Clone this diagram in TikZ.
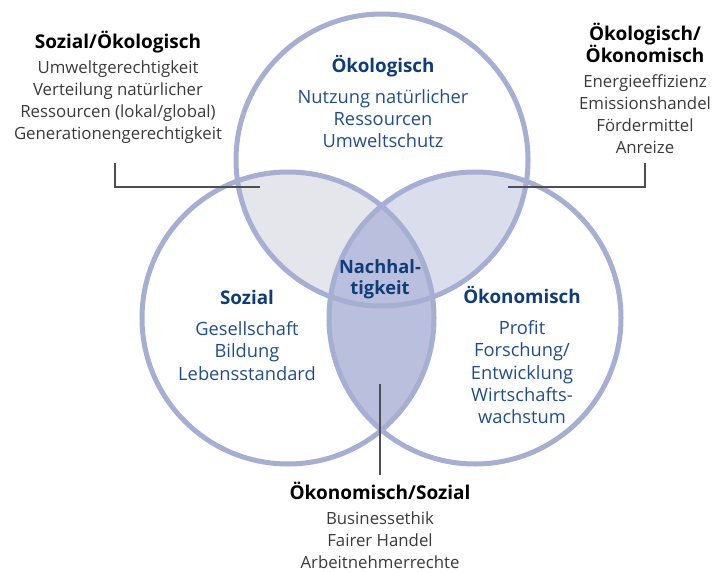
\documentclass[tikz,border=0pt]{standalone}
\usepackage{fontspec}
\setmainfont{Open Sans}
\usetikzlibrary{positioning}

\definecolor{ringblue}{HTML}{A5AED3}
\definecolor{lensgrey}{HTML}{E5E6EB}
\definecolor{lenslight}{HTML}{DADEEC}
\definecolor{lensdark}{HTML}{B9BFDC}
\definecolor{textblue}{HTML}{1F4E8C}
\definecolor{titleblue}{HTML}{0E3D79}
\definecolor{textgrey}{HTML}{3A3A3A}

\tikzset{
  ring/.style={draw=ringblue, line width=5pt},
  inlabel/.style={align=center, text=textblue, font=\fontsize{18.3}{22.3}\selectfont, inner sep=0pt},
  outlabel/.style={align=center, text=textgrey, font=\fontsize{16.8}{22}\selectfont, inner sep=0pt},
  leader/.style={draw=textgrey!90, line width=1.5pt}
}

\begin{document}
\begin{tikzpicture}[x=1pt, y=-1pt]
    \useasboundingbox (0,0) rectangle (725,572);

    % Kreismittelpunkte
    \coordinate (oek) at (382,160);
    \coordinate (soz) at (288,318);
    \coordinate (okn) at (475,318);

    % Schnittflaechen
    \begin{scope}
        \clip (oek) circle[radius=146pt];
        \fill[lensgrey] (soz) circle[radius=146pt];
        \fill[lenslight] (okn) circle[radius=146pt];
    \end{scope}
    \begin{scope}
        \clip (soz) circle[radius=146pt];
        \fill[lensdark] (okn) circle[radius=146pt];
    \end{scope}

    % Kreise
    \draw[ring] (oek) circle[radius=146pt];
    \draw[ring] (soz) circle[radius=146pt];
    \draw[ring] (okn) circle[radius=146pt];

    % Texte in den Kreisen
    \node[inlabel] (toek) at (383,101.5) {{\bfseries\fontsize{18.8}{22.3}\selectfont\color{titleblue} Ökologisch}\\[9pt]
        Nutzung natürlicher\\ Ressourcen\\ Umweltschutz};
    \node[inlabel] (tsoz) at (247,335) {{\bfseries\fontsize{18.8}{22.3}\selectfont\color{titleblue} Sozial}\\[9pt]
        Gesellschaft\\ Bildung\\ Lebensstandard};
    \node[inlabel] (tokn) at (522,355) {{\bfseries\fontsize{18.8}{22.3}\selectfont\color{titleblue} Ökonomisch}\\[9pt]
        Profit\\ Forschung/\\ Entwicklung\\ Wirtschafts-\\ wachstum};
    \node[inlabel, font=\bfseries\fontsize{18.3}{21}\selectfont, text=titleblue] (mitte) at (380,279.5) {Nachhal-\\ tigkeit};

    % Texte aussen
    \node[outlabel] (sok) at (118,87) {{\bfseries\fontsize{19}{22}\selectfont\color{black} Sozial/Ökologisch}\\[3pt]
        Umweltgerechtigkeit\\ Verteilung natürlicher\\ Ressourcen (lokal/global)\\ Generationengerechtigkeit};
    \node[outlabel] (oko) at (645,88.5) {{\bfseries\fontsize{19}{22}\selectfont\color{black} Ökologisch/}\\
        {\bfseries\fontsize{19}{22}\selectfont\color{black} Ökonomisch}\\[3pt]
        Energieeffizienz\\ Emissionshandel\\ Fördermittel\\ Anreize};
    \node[outlabel] (oso) at (380,525.5) {{\bfseries\fontsize{19}{22}\selectfont\color{black} Ökonomisch/Sozial}\\[3pt]
        Businessethik\\ Fairer Handel\\ Arbeitnehmerrechte};

    % Hinweislinien
    \coordinate (sokend) at (260,187);
    \coordinate (okoend) at (508,187);
    \coordinate (osoend) at (380,384);
    \draw[leader] (115,163) |- (sokend);
    \draw[leader] (645,163) |- (okoend);
    \draw[leader, shorten <=7.5pt] (oso.north) -- (osoend);
\end{tikzpicture}
\end{document}
